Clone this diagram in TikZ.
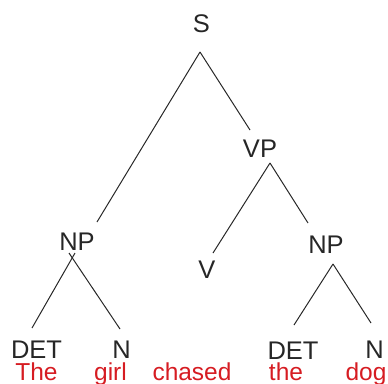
\documentclass[tikz,border=0pt]{standalone}
\usepackage{fontspec}
\setmainfont{Liberation Sans}
\definecolor{wordred}{RGB}{214,28,34}
\definecolor{linegray}{RGB}{40,40,40}
\tikzset{
  cat/.style={anchor=base, inner sep=0pt, text=black!85, font=\fontsize{25.5}{28}\selectfont},
  word/.style={anchor=base, inner sep=0pt, text=wordred, font=\fontsize{24.5}{28}\selectfont},
  branch/.style={draw=linegray, line width=1pt}
}
\begin{document}
\begin{tikzpicture}[x=1pt,y=-1pt]
\useasboundingbox (0,0) rectangle (388,383);
% category nodes (base line positions)
\node[cat] (S)    at (201.5,32)  {S};
\node[cat] (VP)   at (260,157)   {VP};
\node[cat] (NP1)  at (77,250)    {NP};
\node[cat] (NP2)  at (326,253)   {NP};
\node[cat] (V)    at (207,278.5) {V};
\node[cat] (DET1) at (36.5,358.5){DET};
\node[cat] (N1)   at (121.5,358.5){N};
\node[cat] (DET2) at (293,359.5) {DET};
\node[cat] (N2)   at (374.5,358.5){N};
% words
\node[word] (w1) at (36.5,380) {The};
\node[word] (w2) at (110.5,380) {girl};
\node[word] (w3) at (192,380) {chased};
\node[word] (w4) at (286,380) {the};
\node[word] (w5) at (366,380) {dog};
% branch end points
\coordinate (Sa)   at (200,52);
\coordinate (VPt)  at (250,130);
\coordinate (NP1t) at (97,222);
\coordinate (VPa)  at (270,163);
\coordinate (Vt)   at (213,253);
\coordinate (NP2t) at (308,223);
\coordinate (NP1l) at (75,253);
\coordinate (NP1r) at (69,253);
\coordinate (DET1t) at (32,328);
\coordinate (N1t)  at (120,329);
\coordinate (NP2a) at (333,264);
\coordinate (DET2t) at (294,325);
\coordinate (N2t)  at (371,323);
% branches
\draw[branch] (Sa) -- (NP1t);
\draw[branch] (Sa) -- (VPt);
\draw[branch] (VPa) -- (Vt);
\draw[branch] (VPa) -- (NP2t);
\draw[branch] (NP1l) -- (DET1t);
\draw[branch] (NP1r) -- (N1t);
\draw[branch] (NP2a) -- (DET2t);
\draw[branch] (NP2a) -- (N2t);
\end{tikzpicture}
\end{document}
